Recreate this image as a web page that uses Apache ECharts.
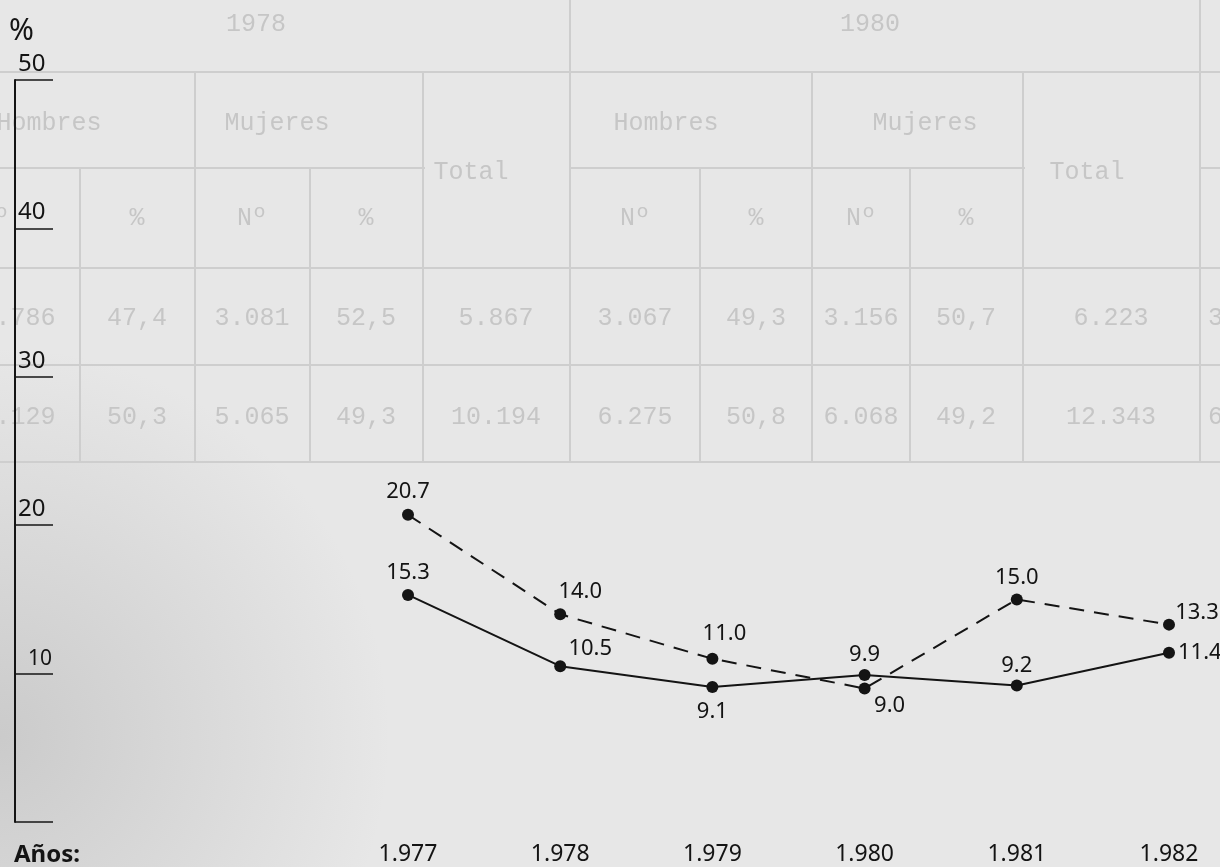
<!DOCTYPE html>
<html>
<head>
<meta charset="utf-8">
<title>Tasa de paro 1977-1982</title>
<script src="https://cdn.jsdelivr.net/npm/echarts@6/dist/echarts.min.js"></script>
<style>
  html, body { margin: 0; padding: 0; background: #e6e6e6; }
  #chart { width: 1220px; height: 867px; }
</style>
</head>
<body>
<div id="chart"></div>
<script>
// ---- chart data ----
const years = ['1.977', '1.978', '1.979', '1.980', '1.981', '1.982'];
const solidValues = [15.3, 10.5, 9.1, 9.9, 9.2, 11.4];
const dashedValues = [20.7, 14.0, 11.0, 9.0, 15.0, 13.3];
const yTicks = [0, 10, 20, 30, 40, 50];

// ---- faint table printed on the back of the sheet ----
const tableYears = ['1978', '1980'];
const tableGroups = ['Hombres', 'Mujeres', 'Hombres', 'Mujeres'];
const tableTotals = ['Total', 'Total'];
const tableSubHeads = ['Nº', '%', 'Nº', '%', 'Nº', '%', 'Nº', '%'];
const tableRow1 = ['2.786', '47,4', '3.081', '52,5', '5.867', '3.067', '49,3', '3.156', '50,7', '6.223', '3'];
const tableRow2 = ['5.129', '50,3', '5.065', '49,3', '10.194', '6.275', '50,8', '6.068', '49,2', '12.343', '6'];

// ---- layout of the faint table (pixels) ----
const colCenters = [18, 137, 252, 366, 496, 635, 756, 861, 966, 1111];
const lastColLeft = 1208;
const yearCenters = [256, 870];
const groupCenters = [49, 277, 666, 925];
const totalCenters = [471, 1087];
const subHeadCenters = [-6, 137, 252, 366, 635, 756, 861, 966];
const rowY = { year: 24, group: 123, total: 172, sub: 218, r1: 318, r2: 417 };
const hLines = [
  [0, 72, 1220, 72], [0, 168, 425, 168], [570, 168, 1025, 168], [1200, 168, 1220, 168],
  [0, 268, 1220, 268], [0, 365, 1220, 365], [0, 462, 1220, 462]
];
const vLines = [
  [80, 168, 462], [195, 72, 462], [310, 168, 462], [423, 72, 462], [570, 0, 462],
  [700, 168, 462], [812, 72, 462], [910, 168, 462], [1023, 72, 462], [1200, 0, 462]
];

// ---- label placement for each point ----
const solidLabelPos = [
  { position: 'top', distance: 5 },
  { position: 'top', distance: 2, offset: [30, 2] },
  { position: 'bottom', distance: 8 },
  { position: 'top', distance: 3 },
  { position: 'top', distance: 3 },
  { position: 'right', distance: 3 }
];
const dashedLabelPos = [
  { position: 'top', distance: 6 },
  { position: 'top', distance: 6, offset: [20, 0] },
  { position: 'top', distance: 8, offset: [12, 0] },
  { position: 'bottom', distance: 2, offset: [25, -2] },
  { position: 'top', distance: 5 },
  { position: 'top', distance: 1, offset: [28, 6] }
];

const INK = '#141414';
const GHOST = '#c6c6c6';
const LINE_FONT = '"Noto Sans", "DejaVu Sans", sans-serif';
const MONO = '"Liberation Mono", "DejaVu Sans Mono", monospace';

function ghostText(text, x, y, align) {
  return {
    type: 'text', z: -5, silent: true,
    style: {
      text: text, x: x, y: y, fill: GHOST,
      font: '25px ' + MONO, align: align || 'center', verticalAlign: 'middle'
    }
  };
}

const graphics = [];
// paper with a darker shadow toward the lower left
graphics.push({
  type: 'rect', z: -20, silent: true,
  shape: { x: 0, y: 0, width: 1220, height: 867 },
  style: { fill: '#e7e7e7' }
});
graphics.push({
  type: 'rect', z: -19, silent: true,
  shape: { x: 0, y: 0, width: 1220, height: 867 },
  style: {
    fill: {
      type: 'radial', x: 0.0, y: 0.85, r: 0.45,
      colorStops: [
        { offset: 0, color: 'rgba(150,150,150,0.35)' },
        { offset: 1, color: 'rgba(150,150,150,0)' }
      ]
    }
  }
});
hLines.forEach(function (l) {
  graphics.push({
    type: 'line', z: -6, silent: true,
    shape: { x1: l[0], y1: l[1], x2: l[2], y2: l[3] },
    style: { stroke: '#cecece', lineWidth: 2 }
  });
});
vLines.forEach(function (l) {
  graphics.push({
    type: 'line', z: -6, silent: true,
    shape: { x1: l[0], y1: l[1], x2: l[0], y2: l[2] },
    style: { stroke: '#cecece', lineWidth: 2 }
  });
});
tableYears.forEach(function (t, i) { graphics.push(ghostText(t, yearCenters[i], rowY.year)); });
tableGroups.forEach(function (t, i) { graphics.push(ghostText(t, groupCenters[i], rowY.group)); });
tableTotals.forEach(function (t, i) { graphics.push(ghostText(t, totalCenters[i], rowY.total)); });
tableSubHeads.forEach(function (t, i) { graphics.push(ghostText(t, subHeadCenters[i], rowY.sub)); });
[[tableRow1, rowY.r1], [tableRow2, rowY.r2]].forEach(function (pair) {
  pair[0].forEach(function (t, i) {
    if (i < colCenters.length) graphics.push(ghostText(t, colCenters[i], pair[1]));
    else graphics.push(ghostText(t, lastColLeft, pair[1], 'left'));
  });
});

// axis captions
graphics.push({
  type: 'text', z: 5, silent: true,
  style: { text: '%', x: 9, y: 16, fill: INK, font: '30px ' + LINE_FONT }
});
graphics.push({
  type: 'text', z: 5, silent: true,
  style: {
    text: 'Años:', x: 14, y: 855, fill: INK, verticalAlign: 'middle',
    font: 'bold 24px ' + LINE_FONT
  }
});

function withLabels(values, placement) {
  return values.map(function (v, i) {
    return { value: v, label: Object.assign({}, placement[i]) };
  });
}

const labelStyle = {
  show: true, color: INK, fontSize: 22, fontFamily: LINE_FONT,
  formatter: function (p) { return p.value.toFixed(1); }
};

const option = {
  backgroundColor: '#e7e7e7',
  animation: false,
  graphic: graphics,
  grid: { left: 408, right: 51, top: 80, bottom: 45, containLabel: false },
  xAxis: {
    type: 'category',
    data: years,
    boundaryGap: false,
    axisLine: { show: false },
    axisTick: { show: false },
    splitLine: { show: false },
    axisLabel: { color: INK, fontSize: 23, fontFamily: LINE_FONT, margin: 21 }
  },
  yAxis: {
    type: 'value',
    min: yTicks[0],
    max: yTicks[yTicks.length - 1],
    interval: 10,
    offset: 393,
    axisLine: { show: true, lineStyle: { color: INK, width: 2 } },
    axisTick: { show: true, inside: true, length: 38, lineStyle: { color: INK, width: 1.6 } },
    splitLine: { show: false },
    axisLabel: {
      inside: true, margin: 3, color: INK, fontSize: 24, fontFamily: LINE_FONT,
      verticalAlign: 'bottom', padding: [0, 0, 4, 0],
      formatter: function (v) {
        if (v === 0) return '';
        return v === 10 ? '{s|' + v + '}' : String(v);
      },
      rich: { s: { fontSize: 21, fontFamily: LINE_FONT, color: INK, padding: [0, 0, 0, 10] } }
    }
  },
  series: [
    {
      name: 'continua',
      type: 'line',
      data: withLabels(solidValues, solidLabelPos),
      symbol: 'circle', symbolSize: 12,
      itemStyle: { color: INK },
      lineStyle: { color: INK, width: 2, type: 'solid' },
      label: labelStyle
    },
    {
      name: 'discontinua',
      type: 'line',
      data: withLabels(dashedValues, dashedLabelPos),
      symbol: 'circle', symbolSize: 12,
      itemStyle: { color: INK },
      lineStyle: { color: INK, width: 2, type: [15, 10] },
      label: labelStyle
    }
  ]
};

const chart = echarts.init(document.getElementById('chart'), null, { renderer: 'canvas' });
chart.setOption(option);
</script>
</body>
</html>
